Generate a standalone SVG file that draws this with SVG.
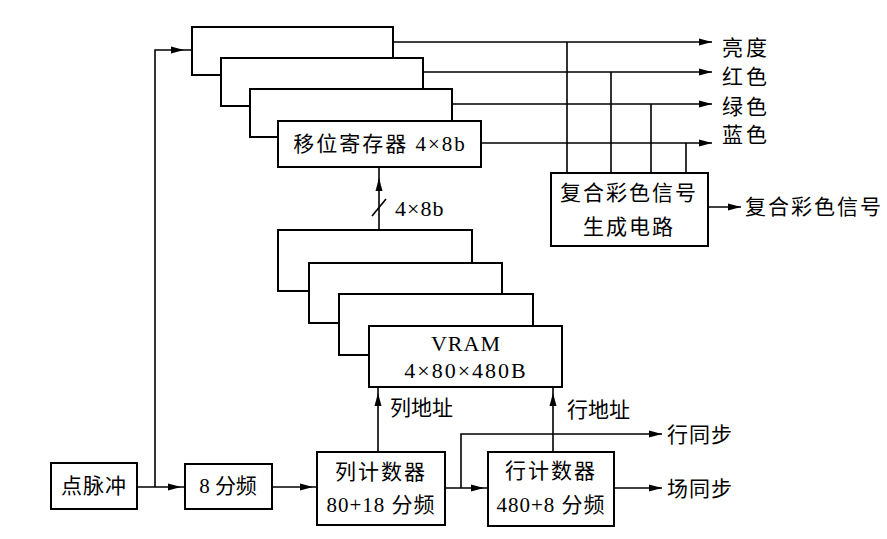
<svg xmlns="http://www.w3.org/2000/svg" xmlns:xlink="http://www.w3.org/1999/xlink" width="887" height="539" viewBox="0 0 887 539">
<style>
.box{fill:#fff;stroke:#000;stroke-width:2}
.ln{fill:none;stroke:#000;stroke-width:1.6}
.t{font-family:"Liberation Serif","Noto Sans CJK SC",serif;font-size:21px;fill:#000;dominant-baseline:central}
.c{text-anchor:middle}
.l{font-size:22px}
</style>
<defs>
<polygon id="ah" points="0,0 -13,-3.5 -13,3.5" fill="#000"/>
</defs>
<rect width="887" height="539" fill="#fff"/>

<g id="connectors">
<path class="ln" d="M393,42 H712 M423,72 H712 M452,104 H712 M481,143 H712"/>
<path class="ln" d="M567,42 V173 M611,72 V173 M651,104 V173 M686,143 V173"/>
<use xlink:href="#ah" transform="translate(712,42)"/>
<use xlink:href="#ah" transform="translate(712,72)"/>
<use xlink:href="#ah" transform="translate(712,104)"/>
<use xlink:href="#ah" transform="translate(712,143)"/>
<path class="ln" d="M708,207 H741"/>
<use xlink:href="#ah" transform="translate(741,207)"/>
<path class="ln" d="M137,487 H185 M155,487 V50 H192"/>
<use xlink:href="#ah" transform="translate(184,50)"/>
<use xlink:href="#ah" transform="translate(181,487)"/>
<path class="ln" d="M272,487 H317"/>
<use xlink:href="#ah" transform="translate(313,487)"/>
<path class="ln" d="M445,488 H488 M461,488 V434 H662"/>
<use xlink:href="#ah" transform="translate(484,488)"/>
<use xlink:href="#ah" transform="translate(662,434)"/>
<path class="ln" d="M614,488 H662"/>
<use xlink:href="#ah" transform="translate(662,488)"/>
<path class="ln" d="M378,452 V387 M553,452 V387"/>
<use xlink:href="#ah" transform="translate(378,393) rotate(-90)"/>
<use xlink:href="#ah" transform="translate(553,393) rotate(-90)"/>
<path class="ln" d="M379,230 V167"/>
<use xlink:href="#ah" transform="translate(379,178) rotate(-90)"/>
<path class="ln" d="M372,216 L386,199"/>
</g>

<g id="sr1"><rect class="box" x="192" y="27" width="201" height="48"/></g>
<g id="sr2"><rect class="box" x="221" y="58" width="202" height="48"/></g>
<g id="sr3"><rect class="box" x="250" y="89" width="202" height="48"/></g>
<g id="sr4"><rect class="box" x="278" y="121" width="203" height="46"/>
<text class="t c" x="380" y="144" letter-spacing="2">移位寄存器 4×8b</text></g>

<g id="composite"><rect class="box" x="551" y="173" width="157" height="73"/>
<text class="t c" x="629" y="193" letter-spacing="2">复合彩色信号</text>
<text class="t c" x="629" y="227" letter-spacing="2">生成电路</text></g>

<g id="vram1"><rect class="box" x="278" y="230" width="194" height="61"/></g>
<g id="vram2"><rect class="box" x="309" y="263" width="193" height="60"/></g>
<g id="vram3"><rect class="box" x="339" y="294" width="194" height="61"/></g>
<g id="vram4"><rect class="box" x="369" y="326" width="193" height="61"/>
<text class="t l c" x="466" y="343" letter-spacing="1">VRAM</text>
<text class="t l c" x="466" y="370" letter-spacing="2">4×80×480B</text></g>

<g id="dotclk"><rect class="box" x="51" y="463" width="86" height="46"/>
<text class="t c" x="94" y="486" letter-spacing="1">点脉冲</text></g>
<g id="div8"><rect class="box" x="185" y="464" width="87" height="45"/>
<text class="t c" x="228" y="486">8 分频</text></g>
<g id="colcnt"><rect class="box" x="317" y="452" width="128" height="73"/>
<text class="t c" x="381" y="472" letter-spacing="2">列计数器</text>
<text class="t c" x="381" y="505" letter-spacing="1">80+18 分频</text></g>
<g id="rowcnt"><rect class="box" x="488" y="452" width="126" height="74"/>
<text class="t c" x="551" y="471" letter-spacing="2">行计数器</text>
<text class="t c" x="551" y="505" letter-spacing="1">480+8 分频</text></g>

<g id="labels">
<text class="t" x="722" y="48" letter-spacing="3">亮度</text>
<text class="t" x="722" y="77" letter-spacing="3">红色</text>
<text class="t" x="722" y="107" letter-spacing="3">绿色</text>
<text class="t" x="722" y="135" letter-spacing="3">蓝色</text>
<text class="t" x="745" y="207" letter-spacing="2">复合彩色信号</text>
<text class="t l" x="395" y="208" letter-spacing="1">4×8b</text>
<text class="t" x="390" y="408">列地址</text>
<text class="t" x="567" y="410">行地址</text>
<text class="t" x="667" y="435" letter-spacing="1">行同步</text>
<text class="t" x="667" y="489" letter-spacing="1">场同步</text>
</g>
</svg>
